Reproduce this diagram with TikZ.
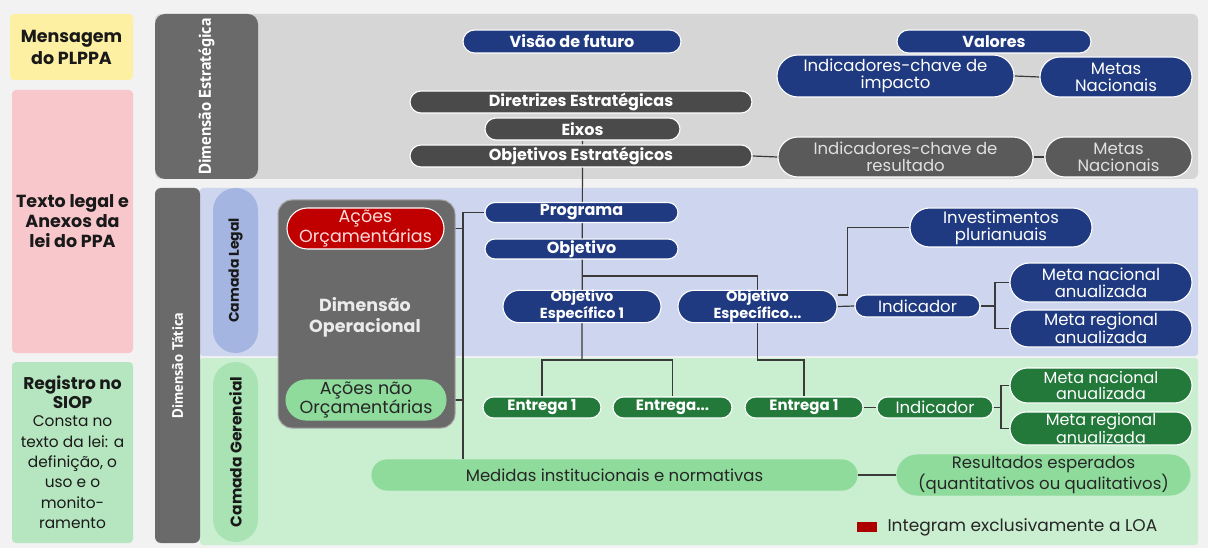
\documentclass[tikz,border=0pt]{standalone}
\usepackage{fontspec}
\setmainfont{Poppins}
\newfontfamily\ptsans{PT Sans}
\usetikzlibrary{shapes.misc}
\definecolor{bgc}{HTML}{F2F2F2}
\definecolor{navy}{HTML}{1F3A80}
\definecolor{dgrey}{HTML}{4A4A4A}
\definecolor{mgrey}{HTML}{5A5A5A}
\definecolor{lblgrey}{HTML}{6A6A6A}
\definecolor{panelgrey}{HTML}{D6D6D6}
\definecolor{panelblue}{HTML}{CDD6EE}
\definecolor{pillblue}{HTML}{A3B5E0}
\definecolor{panelgreen}{HTML}{CAEED0}
\definecolor{pillgreen}{HTML}{A9E3B3}
\definecolor{dgreen}{HTML}{22793A}
\definecolor{lgreen}{HTML}{8EDB9C}
\definecolor{redc}{HTML}{C00000}
\definecolor{yel}{HTML}{FDF0A2}
\definecolor{pink}{HTML}{F8C7CB}
\definecolor{lefgreen}{HTML}{B6E6C0}
\definecolor{linec}{HTML}{3A3A3A}
\pgfdeclarelayer{panels}
\pgfdeclarelayer{edges}
\pgfsetlayers{panels,edges,main}
\tikzset{
  pill/.style={rounded rectangle, inner sep=0pt, align=center, draw=white, line width=1.1pt},
  navypill/.style={pill, fill=navy, text=white},
  greypill/.style={pill, fill=dgrey, text=white},
  mgreypill/.style={pill, fill=mgrey, text=white!88!black},
  greenpill/.style={pill, fill=dgreen, text=white},
  lgpill/.style={pill, fill=lgreen, text=black!85, draw=lgreen},
  bigb/.style={font=\bfseries\fontsize{16}{17}\selectfont},
  smallb/.style={font=\bfseries\fontsize{14.5}{14}\selectfont},
  regf/.style={font=\fontsize{16.5}{17}\selectfont},
  conn/.style={draw=linec, line width=1.2pt},
  leftbox/.style={rounded corners=4pt, inner sep=0pt, align=center, minimum width=121, text=black!90},
}
\begin{document}
\begin{tikzpicture}[x=1pt,y=-1pt]
\useasboundingbox (0,0) rectangle (1208,548);
\begin{pgfonlayer}{panels}
\fill[bgc] (0,0) rectangle (1208,548);
\fill[panelgrey, rounded corners=6pt] (155,14) rectangle (1198,179);
\fill[panelblue, rounded corners=3pt] (200,188) rectangle (1198,356);
\fill[panelgreen, rounded corners=3pt] (200,358) rectangle (1198,545);
\end{pgfonlayer}

% left column
\node[leftbox, fill=yel, minimum width=123, minimum height=66, font=\bfseries\fontsize{17.5}{22}\selectfont] (msg) at (71.5,47) {Mensagem\\do PLPPA};
\node[leftbox, fill=pink, minimum height=263, font=\bfseries\fontsize{17.5}{20}\selectfont] (txt) at (72.5,221.5) {Texto legal e\\Anexos da\\lei do PPA};
\node[leftbox, fill=lefgreen, minimum height=181, font=\fontsize{15.4}{20.4}\selectfont] (regbox) at (72.5,452.5) {{\bfseries\fontsize{17}{18}\selectfont Registro no}\\[-2pt]{\bfseries\fontsize{17}{18}\selectfont SIOP}\\[-2pt]Consta no\\texto da lei: a\\definição, o\\uso e o\\monito-\\ramento};

% dimension labels
\node[fill=lblgrey, rounded corners=10pt, minimum width=103, minimum height=165, inner sep=0pt] (dimest) at (206.5,96.5) {};
\node[rotate=90, text=white, font=\ptsans\bfseries\fontsize{17}{17}\selectfont] (dimestt) at (dimest.center) {Dimensão Estratégica};
\node[fill=lblgrey, rounded corners=6pt, minimum width=45, minimum height=355, inner sep=0pt] (dimtat) at (177.5,365.5) {};
\node[rotate=90, text=white, font=\ptsans\bfseries\fontsize{15}{15}\selectfont] (dimtatt) at (dimtat.center) {Dimensão Tática};
\node[rounded rectangle, rotate=90, fill=pillblue, minimum width=165, minimum height=45, inner sep=0pt, font=\bfseries\fontsize{14}{12}\selectfont, text=black!90] (clegal) at (235.5,270.5) {Camada Legal};
\node[rounded rectangle, rotate=90, fill=pillgreen, minimum width=180, minimum height=45, inner sep=0pt, font=\bfseries\fontsize{15.5}{12}\selectfont, text=black!90] (cger) at (235.5,452) {Camada Gerencial};

% operational box
\node[fill=lblgrey, draw=gray!70, line width=1pt, rounded corners=14pt, minimum width=177, minimum height=228, inner sep=0pt] (opbox) at (366.5,314) {};
\node[text=white!92!black, align=center, font=\bfseries\fontsize{17.5}{21}\selectfont] (optxt) at (365,317) {Dimensão\\Operacional};
\node[pill, fill=redc, text=red!15, font=\fontsize{17.5}{18}\selectfont, minimum width=157, minimum height=41] (aorc) at (365.5,228.5) {Ações\\Orçamentárias};
\node[lgpill, font=\fontsize{17.5}{18}\selectfont, minimum width=160, minimum height=40] (anorc) at (366,400) {Ações não\\Orçamentárias};

% strategic nodes
\node[navypill, bigb, minimum width=218, minimum height=23] (vis) at (572,41.5) {Visão de futuro};
\node[navypill, bigb, minimum width=194, minimum height=23] (val) at (994,41.5) {Valores};
\node[navypill, regf, minimum width=237, minimum height=42] (ikimp) at (895.5,76) {Indicadores-chave de\\impacto};
\node[navypill, regf, minimum width=152, minimum height=40] (metas1) at (1116,77) {Metas\\Nacionais};
\node[greypill, bigb, minimum width=342, minimum height=22] (dir) at (581,102) {Diretrizes Estratégicas};
\node[greypill, bigb, minimum width=195, minimum height=22] (eixos) at (582.5,129) {Eixos};
\node[greypill, bigb, minimum width=342, minimum height=22] (objest) at (581,156) {Objetivos Estratégicos};
\node[mgreypill, regf, minimum width=255, minimum height=40] (ikres) at (905.5,157) {Indicadores-chave de\\resultado};
\node[mgreypill, regf, minimum width=147, minimum height=40] (metas2) at (1118.5,157) {Metas\\Nacionais};

% legal layer
\node[navypill, bigb, minimum width=193, minimum height=20] (prog) at (581.5,212.5) {Programa};
\node[navypill, bigb, minimum width=193, minimum height=20] (obj) at (581.5,249) {Objetivo};
\node[navypill, smallb, minimum width=158, minimum height=29] (oe1) at (582,306.5) {Objetivo\\Específico 1};
\node[navypill, smallb, minimum width=159, minimum height=29] (oe2) at (757.5,306.5) {Objetivo\\Específico...};
\node[navypill, regf, minimum width=182, minimum height=39] (inv) at (1001,227.5) {Investimentos\\plurianuais};
\node[navypill, regf, minimum width=125, minimum height=22] (indb) at (917.5,306) {Indicador};
\node[navypill, regf, minimum width=182, minimum height=39] (mnb) at (1101,282.5) {Meta nacional\\anualizada};
\node[navypill, regf, minimum width=182, minimum height=37] (mrb) at (1101,328.5) {Meta regional\\anualizada};

% gerencial layer
\node[greenpill, font=\bfseries\fontsize{15}{15}\selectfont, minimum width=118, minimum height=21] (e1) at (542,407.5) {Entrega 1};
\node[greenpill, font=\bfseries\fontsize{15}{15}\selectfont, minimum width=119, minimum height=21] (e2) at (672.5,407.5) {Entrega...};
\node[greenpill, font=\bfseries\fontsize{15}{15}\selectfont, minimum width=118, minimum height=21] (e3) at (804,407.5) {Entrega 1};
\node[greenpill, regf, minimum width=116, minimum height=21] (indg) at (935,407.5) {Indicador};
\node[greenpill, font=\fontsize{16}{15.5}\selectfont, minimum width=182, minimum height=35] (mng) at (1101,385.5) {Meta nacional\\anualizada};
\node[greenpill, font=\fontsize{16}{15.5}\selectfont, minimum width=182, minimum height=33] (mrg) at (1101,428.5) {Meta regional\\anualizada};
\node[lgpill, regf, minimum width=485, minimum height=30] (med) at (614.5,475) {Medidas institucionais e normativas};
\node[lgpill, font=\fontsize{16.5}{18}\selectfont, minimum width=293, minimum height=40] (res) at (1043.5,475) {Resultados esperados\\(quantitativos ou qualitativos)};

% legend
\node[fill=redc!90!black, minimum width=20, minimum height=10, inner sep=0pt] (sq) at (867,527) {};
\node[anchor=west, font=\fontsize{17}{17}\selectfont, text=black!85] (leg) at (884,527) {Integram exclusivamente a LOA};

% connectors
\coordinate (t1) at (582,360);
\coordinate (b1) at (582,276);
\coordinate (t2) at (757.5,360);
\coordinate (v1) at (463,212.5);
\coordinate (k1) at (995,306);
\coordinate (k2) at (1001,407.5);
\begin{pgfonlayer}{edges}
\draw[conn] (eixos.south) -- (t1);
\draw[conn] (e1.north) |- (t1) -| (e2.north);
\draw[conn] (b1) -| (oe2.north);
\draw[conn] (oe2.south) -- (t2) -| (e3.north);
\draw[conn] (prog.west) -- (v1) -- (v1 |- med.north);
\draw[conn] (aorc.east) -- (aorc.east -| v1);
\draw[conn] (anorc.east) -- (anorc.east -| v1);
\draw[conn] (objest.east) -- (ikres.west);
\draw[conn] (ikres.east) -- (metas2.west);
\draw[conn] (ikimp.east) -- (metas1.west);
\draw[conn] ([yshift=11.5pt]oe2.east) -- ++(10,0) |- (inv.west);
\draw[conn] (oe2.east) -- (indb.west);
\draw[conn] (indb.east) -- (k1);
\draw[conn] (mnb.west) -| (k1) |- (mrb.west);
\draw[conn] (e3.east) -- (indg.west);
\draw[conn] (indg.east) -- (k2);
\draw[conn] (mng.west) -| (k2) |- (mrg.west);
\draw[conn] (med.east) -- (res.west);
\end{pgfonlayer}
\end{tikzpicture}
\end{document}
